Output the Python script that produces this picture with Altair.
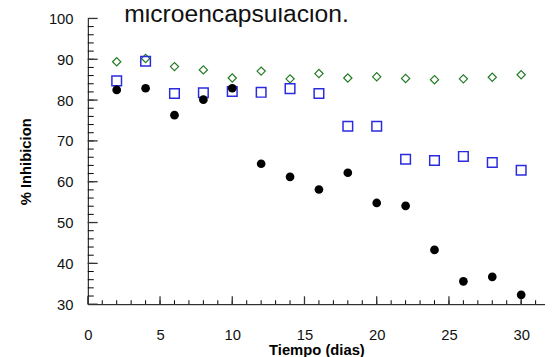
import altair as alt
import pandas as pd

dias = [2, 4, 6, 8, 10, 12, 14, 16, 18, 20, 22, 24, 26, 28, 30]
serie_negro = [82.5, 82.9, 76.3, 80.1, 82.9, 64.4, 61.2, 58.1, 62.2, 54.8, 54.1, 43.3, 35.6, 36.7, 32.3]
serie_azul = [84.7, 89.5, 81.6, 81.8, 82.1, 81.9, 82.8, 81.6, 73.6, 73.6, 65.5, 65.2, 66.2, 64.7, 62.8]
serie_verde = [89.4, 90.2, 88.2, 87.4, 85.4, 87.1, 85.2, 86.5, 85.4, 85.7, 85.3, 85.0, 85.2, 85.6, 86.2]

x_labels = [0, 5, 10, 15, 20, 25, 30]
y_labels = [30, 40, 50, 60, 70, 80, 90, 100]
x_ticks = list(range(1, 32))
y_ticks = list(range(32, 100, 2))

W, H = 464, 290
FONT = "Liberation Sans"

df_n = pd.DataFrame({"x": dias, "y": serie_negro})
df_a = pd.DataFrame({"x": dias, "y": serie_azul})
df_v = pd.DataFrame({"x": dias, "y": serie_verde})

xs = alt.Scale(domain=[0, 31.65], nice=False, zero=False)
ys = alt.Scale(domain=[30, 100], nice=False, zero=False)

xaxis = alt.Axis(values=x_labels, ticks=False, grid=False, labelPadding=24,
                 labelFontSize=15, labelFont=FONT, labelColor="#111",
                 title="Tiempo (dias)", titleFont=FONT, titleFontSize=15,
                 titleFontWeight="bold", titleColor="black", titlePadding=0,
                 domainColor="black", labelFlush=False)
yaxis = alt.Axis(values=y_labels, ticks=False, grid=False, labelPadding=15,
                 labelFontSize=15, labelFont=FONT, labelColor="#111",
                 title="% Inhibicion", titleFont=FONT, titleFontSize=15,
                 titleFontWeight="bold", titleColor="black", titlePadding=15,
                 domainColor="black")

negro = alt.Chart(df_n).mark_point(shape="circle", filled=True, color="black",
                                   size=78, opacity=1).encode(
    x=alt.X("x:Q", scale=xs, axis=xaxis),
    y=alt.Y("y:Q", scale=ys, axis=yaxis),
)
azul = alt.Chart(df_a).mark_point(shape="square", filled=False, color="#2a2ae0",
                                  size=95, strokeWidth=1.5, opacity=1).encode(
    x=alt.X("x:Q", scale=xs), y=alt.Y("y:Q", scale=ys))
verde = alt.Chart(df_v).mark_point(shape="diamond", filled=False, color="#237a23",
                                   size=70, strokeWidth=1.2, opacity=1).encode(
    x=alt.X("x:Q", scale=xs), y=alt.Y("y:Q", scale=ys))

# tick marks pointing inward, drawn from tick value lists through the scales
yt_minor = alt.Chart(pd.DataFrame({"v": y_ticks})).mark_rule(color="black", strokeWidth=1).encode(
    y=alt.Y("v:Q", scale=ys), x=alt.value(0), x2=alt.value(6))
yt_major = alt.Chart(pd.DataFrame({"v": y_labels})).mark_rule(color="#333", strokeWidth=1.3).encode(
    y=alt.Y("v:Q", scale=ys), x=alt.value(0), x2=alt.value(10))
xt_minor = alt.Chart(pd.DataFrame({"v": x_ticks})).mark_rule(color="black", strokeWidth=1).encode(
    x=alt.X("v:Q", scale=xs), y=alt.value(H), y2=alt.value(H - 4))
xt_major = alt.Chart(pd.DataFrame({"v": x_labels})).mark_rule(color="#333", strokeWidth=1.3).encode(
    x=alt.X("v:Q", scale=xs), y=alt.value(H), y2=alt.value(H - 8))

titulo = alt.Chart(pd.DataFrame({"t": ["microencapsulacion."]})).mark_text(
    font=FONT, fontSize=25, align="left", baseline="alphabetic", color="#111").encode(
    text="t:N", x=alt.value(37), y=alt.value(4))

chart = alt.layer(yt_minor, yt_major, xt_minor, xt_major, verde, azul, negro, titulo).properties(
    width=W, height=H,
    autosize=alt.AutoSizeParams(type="none"),
    padding={"left": 81, "top": 8, "right": 0, "bottom": 51},
).configure_view(stroke=None).configure_axis(domainWidth=1)

chart.save("out.html", embed_options={"renderer": "svg", "actions": False})
